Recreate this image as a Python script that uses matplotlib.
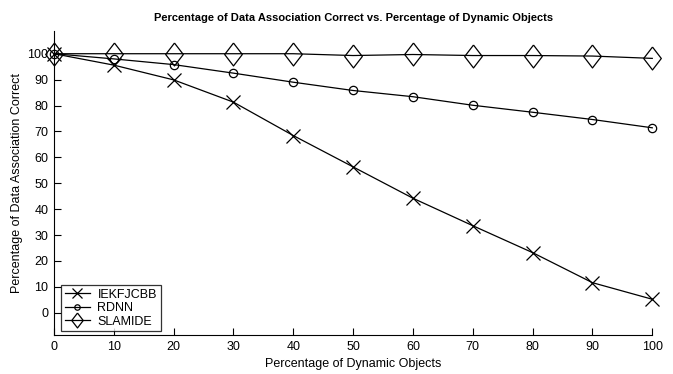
import matplotlib
matplotlib.use("Agg")
import matplotlib.pyplot as plt

plt.rcParams['font.family'] = ['Liberation Sans', 'DejaVu Sans']

x = [0, 10, 20, 30, 40, 50, 60, 70, 80, 90, 100]
iekf = [100, 95.6, 89.9, 81.3, 68.4, 56.3, 44.2, 33.6, 23.2, 11.6, 5.2]
rdnn = [100, 98.0, 95.8, 92.5, 89.0, 85.8, 83.4, 80.1, 77.4, 74.6, 71.4]
slamide = [100, 100, 100, 100, 100, 99.3, 99.7, 99.3, 99.3, 99.1, 98.2]
xticks = [0, 10, 20, 30, 40, 50, 60, 70, 80, 90, 100]
yticks = [0, 10, 20, 30, 40, 50, 60, 70, 80, 90, 100]

diamond = [(0, 1), (0.77, 0), (0, -1), (-0.77, 0), (0, 1)]

fig = plt.figure(figsize=(6.73, 3.74), dpi=100)
ax = fig.add_axes([0.0802, 0.1043, 0.889, 0.813])

ax.plot(x, iekf, color='black', lw=0.9, marker='x', ms=10, mew=0.9, label='IEKFJCBB', clip_on=False)
ax.plot(x, rdnn, color='black', lw=0.9, marker='o', ms=6, mfc='none', mew=0.9, label='RDNN', clip_on=False)
ax.plot(x, slamide, color='black', lw=0.9, marker=diamond, ms=16.5, mfc='none', mew=0.9, label='SLAMIDE', clip_on=False)

ax.set_xlim(0, 100)
ax.set_ylim(-8.6, 108.8)
ax.set_xticks(xticks)
ax.set_yticks(yticks)
ax.tick_params(direction='in', length=5, width=0.8, labelsize=9, pad=4)
for s in ['top', 'right']:
    ax.spines[s].set_visible(False)
for s in ['left', 'bottom']:
    ax.spines[s].set_linewidth(0.8)

ax.set_xlabel('Percentage of Dynamic Objects', fontsize=9, labelpad=4)
ax.set_ylabel('Percentage of Data Association Correct', fontsize=9, labelpad=3)
ax.set_title('Percentage of Data Association Correct vs. Percentage of Dynamic Objects',
             fontsize=8, fontweight='bold', pad=7)

leg = ax.legend(loc='lower left', bbox_to_anchor=(0.012, 0.012), fontsize=9, frameon=True,
                fancybox=False, edgecolor='black', handlelength=2.0, borderpad=0.3,
                labelspacing=0.12, handletextpad=0.6, markerscale=0.65, borderaxespad=0)
leg.get_frame().set_linewidth(0.9)

fig.savefig('out.png', dpi=100)
